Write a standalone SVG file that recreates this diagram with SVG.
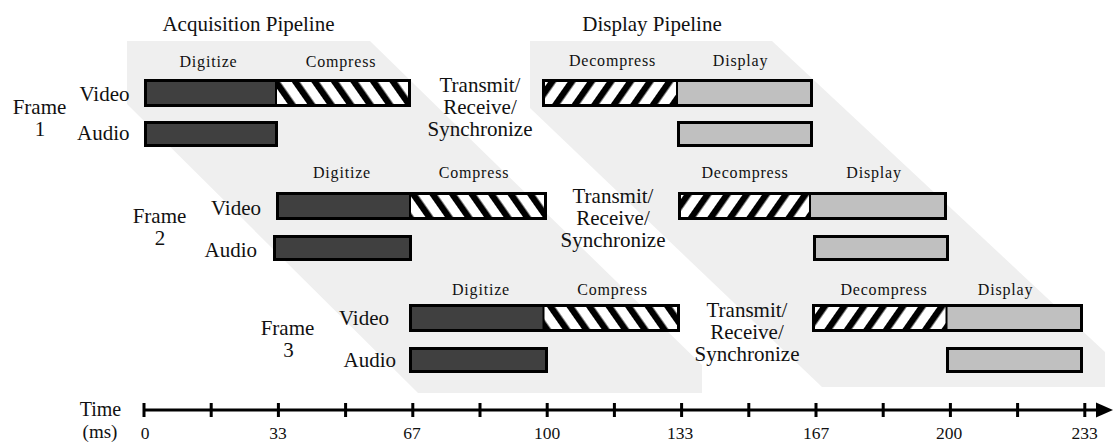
<svg xmlns="http://www.w3.org/2000/svg" width="1114" height="443" viewBox="0 0 1114 443">
<defs>
<style>
.big{font-family:"Liberation Serif","Times New Roman",serif;font-size:21px;fill:#111}
.small{font-family:"Liberation Serif","Times New Roman",serif;font-size:16px;letter-spacing:0.8px;fill:#111;text-anchor:middle}
.mid{text-anchor:middle}
.end{text-anchor:end}
.band{fill:#efefef}
.dig{fill:#404040}
.disp{fill:#c0c0c0}
.comp{fill:url(#hatchBack)}
.decomp{fill:url(#hatchFwd)}
.outline{fill:none;stroke:#000;stroke-width:3}
.divider{stroke:#000;stroke-width:2}
.axis{stroke:#000;stroke-width:3;fill:none}
.num{font-family:"Liberation Serif","Times New Roman",serif;font-size:17.5px;fill:#111;text-anchor:middle}
</style>
<pattern id="hatchBack" patternUnits="userSpaceOnUse" width="16" height="16" patternTransform="rotate(-35)">
<rect width="16" height="16" fill="#fff"/>
<rect width="6.5" height="16" fill="#000"/>
</pattern>
<pattern id="hatchFwd" patternUnits="userSpaceOnUse" width="16" height="16" patternTransform="rotate(35)">
<rect width="16" height="16" fill="#fff"/>
<rect width="6.5" height="16" fill="#000"/>
</pattern>
</defs>
<rect width="1114" height="443" fill="#fff"/>

<g id="bands">
<polygon class="band" points="127,41 370,41 702,365 702,393 418,393 127,104"/>
<polygon class="band" points="530,41 772,41 1105,352 1105,387 822,387 530,108"/>
</g>

<g id="titles">
<text class="big mid" x="248.5" y="31">Acquisition Pipeline</text>
<text class="big mid" x="652" y="30.5">Display Pipeline</text>
</g>

<!-- Frame 1 -->
<g id="frame1-label">
<text class="big mid" x="39.5" y="113.5">Frame</text>
<text class="big mid" x="40" y="136">1</text>
</g>
<g id="frame1-video-acquisition">
<text class="big end" x="129.5" y="100.7">Video</text>
<text class="small" x="208.5" y="66.5">Digitize</text>
<text class="small" x="341" y="66.5">Compress</text>
<rect class="dig" x="145.5" y="80.5" width="130.5" height="25"/>
<rect class="comp" x="276" y="80.5" width="133.5" height="25"/>
<line class="divider" x1="276" y1="80.5" x2="276" y2="105.5"/>
<rect class="outline" x="145.5" y="80.5" width="264" height="25"/>
</g>
<g id="frame1-audio-acquisition">
<text class="big end" x="129.5" y="140">Audio</text>
<rect class="outline" x="145.5" y="122.5" width="131" height="23" style="fill:#404040"/>
</g>
<g id="frame1-transmit">
<text class="big mid" x="480" y="92">Transmit/</text>
<text class="big mid" x="480" y="114">Receive/</text>
<text class="big mid" x="480" y="136">Synchronize</text>
</g>
<g id="frame1-video-display">
<text class="small" x="612.5" y="65.5">Decompress</text>
<text class="small" x="740.5" y="65.5">Display</text>
<rect class="decomp" x="543.5" y="80.5" width="133.5" height="25"/>
<rect class="disp" x="677" y="80.5" width="134.5" height="25"/>
<line class="divider" x1="677" y1="80.5" x2="677" y2="105.5"/>
<rect class="outline" x="543.5" y="80.5" width="268" height="25"/>
</g>
<g id="frame1-audio-display">
<rect class="outline" x="678.5" y="122.5" width="133" height="23" style="fill:#c0c0c0"/>
</g>

<!-- Frame 2 -->
<g id="frame2-label">
<text class="big mid" x="159.5" y="222.7">Frame</text>
<text class="big mid" x="160" y="245">2</text>
</g>
<g id="frame2-video-acquisition">
<text class="big end" x="261" y="215">Video</text>
<text class="small" x="342" y="177.5">Digitize</text>
<text class="small" x="474" y="177.5">Compress</text>
<rect class="dig" x="277.5" y="193.5" width="132.5" height="25"/>
<rect class="comp" x="410" y="193.5" width="135.5" height="25"/>
<line class="divider" x1="410" y1="193.5" x2="410" y2="218.5"/>
<rect class="outline" x="277.5" y="193.5" width="268" height="25"/>
</g>
<g id="frame2-audio-acquisition">
<text class="big end" x="257" y="256.7">Audio</text>
<rect class="outline" x="274.5" y="236.5" width="136" height="23" style="fill:#404040"/>
</g>
<g id="frame2-transmit">
<text class="big mid" x="613" y="203">Transmit/</text>
<text class="big mid" x="613" y="225">Receive/</text>
<text class="big mid" x="613" y="247">Synchronize</text>
</g>
<g id="frame2-video-display">
<text class="small" x="745" y="178">Decompress</text>
<text class="small" x="874" y="178">Display</text>
<rect class="decomp" x="679.5" y="193.5" width="130.5" height="25"/>
<rect class="disp" x="810" y="193.5" width="135.5" height="25"/>
<line class="divider" x1="810" y1="193.5" x2="810" y2="218.5"/>
<rect class="outline" x="679.5" y="193.5" width="266" height="25"/>
</g>
<g id="frame2-audio-display">
<rect class="outline" x="814.5" y="236.5" width="133" height="23" style="fill:#c0c0c0"/>
</g>

<!-- Frame 3 -->
<g id="frame3-label">
<text class="big mid" x="287.5" y="335">Frame</text>
<text class="big mid" x="288.5" y="357">3</text>
</g>
<g id="frame3-video-acquisition">
<text class="big end" x="389" y="325">Video</text>
<text class="small" x="481" y="295">Digitize</text>
<text class="small" x="612.5" y="295">Compress</text>
<rect class="dig" x="410.5" y="305.5" width="133" height="25"/>
<rect class="comp" x="543.5" y="305.5" width="135" height="25"/>
<line class="divider" x1="543.5" y1="305.5" x2="543.5" y2="330.5"/>
<rect class="outline" x="410.5" y="305.5" width="268" height="25"/>
</g>
<g id="frame3-audio-acquisition">
<text class="big end" x="396" y="366.7">Audio</text>
<rect class="outline" x="410.5" y="348.5" width="136" height="23" style="fill:#404040"/>
</g>
<g id="frame3-transmit">
<text class="big mid" x="747" y="317">Transmit/</text>
<text class="big mid" x="747" y="339">Receive/</text>
<text class="big mid" x="747" y="361">Synchronize</text>
</g>
<g id="frame3-video-display">
<text class="small" x="884" y="295">Decompress</text>
<text class="small" x="1005.5" y="295">Display</text>
<rect class="decomp" x="813.5" y="305.5" width="133" height="25"/>
<rect class="disp" x="946.5" y="305.5" width="135" height="25"/>
<line class="divider" x1="946.5" y1="305.5" x2="946.5" y2="330.5"/>
<rect class="outline" x="813.5" y="305.5" width="268" height="25"/>
</g>
<g id="frame3-audio-display">
<rect class="outline" x="947.5" y="348.5" width="134" height="23" style="fill:#c0c0c0"/>
</g>

<!-- Time axis -->
<g id="time-axis">
<text class="big mid" x="100.5" y="416" style="font-size:20px">Time</text>
<text class="big mid" x="100" y="437.5" style="font-size:19px">(ms)</text>
<line class="axis" x1="144" y1="410" x2="1100" y2="410"/>
<path class="axis" d="M144,403V417M211.2,403V417M278.4,403V417M345.6,403V417M412.8,403V417M480,403V417M547.2,403V417M614.4,403V417M681.6,403V417M748.8,403V417M816,403V417M883.2,403V417M950.4,403V417M1017.6,403V417M1084.8,403V417"/>
<polygon points="1096,402.5 1113,410 1096,417.5" fill="#000"/>
<text class="num" x="145" y="439">0</text>
<text class="num" x="278" y="439">33</text>
<text class="num" x="412" y="439">67</text>
<text class="num" x="547" y="439">100</text>
<text class="num" x="680" y="439">133</text>
<text class="num" x="816" y="439">167</text>
<text class="num" x="949" y="439">200</text>
<text class="num" x="1084.5" y="439">233</text>
</g>
</svg>
